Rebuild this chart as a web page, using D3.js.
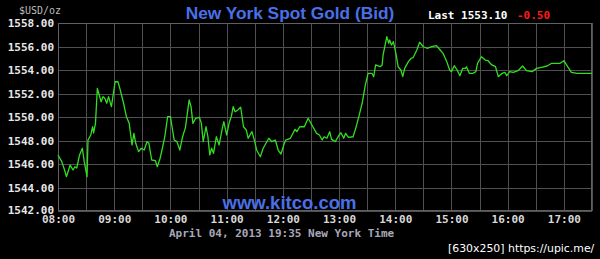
<!DOCTYPE html>
<html><head><meta charset="utf-8">
<script src="https://cdn.jsdelivr.net/npm/d3@7"></script>
<style>html,body{margin:0;padding:0;background:#000;}svg{display:block;}</style>
</head><body>
<svg id="c" width="600" height="259"></svg>
<script>
// minutes after 08:00
const minutes = [0,4,7,9,13,16,18,20,23,26,28,31,32,35,37,38,40,42,44,46,48,50,52,54,57,61,64,66,70,73,76,79,81,83,86,89,92,95,97,100,104,106,109,111,114,117,120,122,124,127,130,133,136,140,142,144,147,151,153,155,158,160,162,164,166,169,172,175,177,180,183,185,187,189,192,195,198,201,203,207,210,212,216,219,225,228,232,235,238,241,243,248,253,255,258,263,267,271,276,279,282,284,287,290,292,296,299,302,305,307,310,315,318,322,325,328,331,335,337,339,344,346,347,351,353,354,356,358,361,363,366,368,370,374,377,379,383,386,390,394,399,404,407,411,415,418,420,423,426,429,432,435,436,439,443,446,448,452,456,459,463,467,470,474,477,479,482,486,491,496,500,506,511,516,522,527,536,540,544,548,554,570];
const prices = [1546.77,1546.20,1545.49,1544.92,1545.91,1545.49,1545.77,1545.66,1546.77,1547.34,1546.20,1544.92,1548.04,1548.47,1549.17,1548.64,1549.46,1552.44,1551.87,1551.30,1551.73,1551.59,1551.17,1551.73,1550.88,1553.00,1553.00,1552.44,1551.17,1550.03,1549.46,1547.62,1548.61,1547.76,1547.05,1547.34,1547.19,1547.90,1547.76,1546.34,1546.28,1545.77,1546.49,1547.19,1548.32,1550.03,1550.03,1549.04,1548.04,1547.90,1547.19,1548.32,1549.10,1551.45,1550.88,1549.46,1549.89,1549.97,1549.46,1547.90,1549.17,1548.32,1546.77,1547.34,1546.91,1548.32,1547.62,1548.89,1549.60,1548.47,1549.60,1550.03,1550.88,1550.45,1550.60,1550.83,1549.17,1548.89,1548.19,1548.75,1547.90,1547.19,1546.62,1547.34,1548.19,1547.90,1548.04,1547.19,1546.85,1547.62,1548.04,1548.19,1548.95,1548.75,1549.17,1549.17,1549.89,1549.32,1548.61,1548.47,1548.04,1548.32,1548.19,1548.75,1548.10,1547.90,1548.32,1548.66,1548.19,1548.61,1548.27,1548.32,1549.10,1550.31,1551.30,1552.72,1553.72,1553.72,1553.43,1554.43,1554.28,1554.43,1555.28,1556.83,1556.27,1556.55,1556.13,1556.41,1555.28,1554.28,1554.00,1553.43,1554.14,1554.71,1555.00,1555.05,1555.70,1556.36,1555.98,1555.85,1555.98,1556.07,1555.79,1555.42,1554.71,1554.00,1553.86,1554.37,1554.00,1553.51,1554.14,1554.14,1554.28,1553.72,1553.72,1553.86,1554.60,1555.13,1554.85,1554.79,1554.43,1554.28,1553.43,1553.72,1553.80,1553.51,1553.86,1553.80,1553.94,1554.34,1553.94,1553.86,1554.14,1554.23,1554.34,1554.57,1554.57,1554.79,1554.28,1553.80,1553.72,1553.72];
const yTicks = [1542,1544,1546,1548,1550,1552,1554,1556,1558];
const xTickLabels = ["08:00","09:00","10:00","11:00","12:00","13:00","14:00","15:00","16:00","17:00"];
const titleText = "New York Spot Gold (Bid)";
const unitText = "$USD/oz";
const lastText = "Last 1553.10";
const changeText = "-0.50";
const dateText = "April 04, 2013 19:35 New York Time";
const siteText = "www.kitco.com";
const stampText = "[630x250] https://upic.me/";

const svg = d3.select("#c");
const L = 58, R = 592, T = 23, B = 211;
const x = d3.scaleLinear().domain([0, 570]).range([L, R]);
const y = d3.scaleLinear().domain([1542, 1558]).range([B, T]);
const mono = "'DejaVu Sans Mono', 'Liberation Mono', monospace";

svg.append("rect").attr("width",600).attr("height",259).attr("fill","#000");

// grid
const g = svg.append("g");
const halfHours = d3.range(0, 571, 30);
g.selectAll("line.v").data(halfHours).enter().append("line")
  .attr("x1", d=>Math.round(x(d))+0.5).attr("x2", d=>Math.round(x(d))+0.5)
  .attr("y1", T).attr("y2", B).attr("stroke","#505050").attr("stroke-width",1);
g.selectAll("line.h").data(yTicks).enter().append("line")
  .attr("y1", d=>Math.round(y(d))+0.5).attr("y2", d=>Math.round(y(d))+0.5)
  .attr("x1", L).attr("x2", R).attr("stroke","#505050").attr("stroke-width",1);
svg.append("rect").attr("x",L+0.5).attr("y",T+0.5).attr("width",R-L-1).attr("height",B-T-1)
  .attr("fill","none").attr("stroke","#606060");

// y axis labels
const yAxis = d3.axisLeft(y).tickValues(yTicks).tickFormat(d3.format(".2f")).tickSize(0).tickPadding(4);
const ya = svg.append("g").attr("transform",`translate(${L},0)`).call(yAxis);
ya.select(".domain").remove();
ya.selectAll("text").attr("fill","#e8e8e8").attr("font-family",mono).attr("font-size",11).attr("font-weight","bold");
ya.selectAll(".tick").filter(d=>d===1542).select("text").attr("dy","0.2em");

// x axis labels
const xAxis = d3.axisBottom(x).tickValues(d3.range(0, 541, 60))
  .tickFormat((d,i)=>xTickLabels[i]).tickSize(0).tickPadding(4.5);
const xa = svg.append("g").attr("transform",`translate(0,${B})`).call(xAxis);
xa.select(".domain").remove();
xa.selectAll("text").attr("fill","#d8d8d8").attr("font-family",mono).attr("font-size",11).attr("font-weight","bold");

// price line
const line = d3.line().x((d,i)=>x(minutes[i])).y(d=>y(d));
svg.append("path").datum(prices).attr("d", line)
  .attr("fill","none").attr("stroke","#33dd22").attr("stroke-width",1.3).attr("stroke-linejoin","round");

// texts
svg.append("text").attr("x",290).attr("y",19).attr("text-anchor","middle")
  .attr("font-family","'Liberation Sans', Arial, sans-serif").attr("font-weight","bold").attr("font-size",17.3)
  .attr("fill","#4a70e8").text(titleText);
svg.append("text").attr("x",19).attr("y",14).attr("font-family",mono).attr("font-size",10).attr("fill","#bdbdbd").text(unitText);
svg.append("text").attr("x",428).attr("y",19).attr("font-family",mono).attr("font-size",11).attr("font-weight","bold").attr("fill","#ffffff").text(lastText);
svg.append("text").attr("x",517).attr("y",19).attr("font-family",mono).attr("font-size",11).attr("font-weight","bold").attr("fill","#ff1a1a").text(changeText);
svg.append("text").attr("x",169).attr("y",237).attr("font-family",mono).attr("font-size",11).attr("font-weight","bold").attr("fill","#a8a8b8").text(dateText);
svg.append("text").attr("x",289.5).attr("y",209).attr("text-anchor","middle")
  .attr("font-family","'Liberation Sans', Arial, sans-serif").attr("font-weight","bold").attr("font-size",18.5)
  .attr("fill","#4a70e8").text(siteText);
svg.append("text").attr("x",448).attr("y",252).attr("font-family","'DejaVu Sans', sans-serif").attr("font-size",10.9)
  .attr("fill","#ffffff").text(stampText);
</script>
</body></html>
